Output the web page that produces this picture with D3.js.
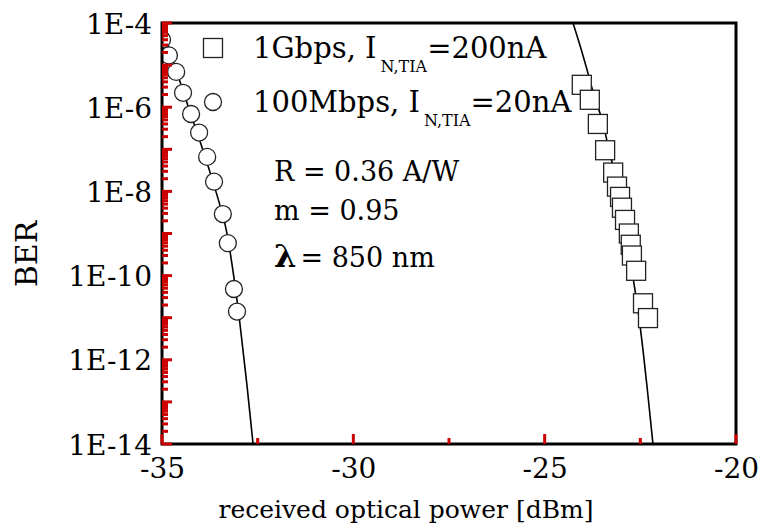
<!DOCTYPE html>
<html lang="en">
<head>
<meta charset="UTF-8">
<title>BER vs received optical power</title>
<script src="https://d3js.org/d3.v7.min.js"></script>
<style>
    body { margin: 0; background: #fff; }
    svg text { font-family: "DejaVu Serif", serif; fill: #000; }
</style>
</head>
<body>
<div id="chart"></div>
<script>
// 100Mbps measurements (circles)
const mbpsPower = [-35.0, -34.82, -34.63, -34.45, -34.24, -34.03, -33.82, -33.64, -33.41, -33.28, -33.12, -33.04];
const mbpsBer = [4.0e-5, 1.7e-5, 6.9e-6, 2.2e-6, 6.9e-7, 2.5e-7, 6.6e-8, 1.7e-8, 2.9e-9, 5.9e-10, 4.8e-11, 1.4e-11];

// 1Gbps measurements (squares)
const gbpsPower = [-24.03, -23.82, -23.61, -23.42, -23.21, -23.11, -23.03, -22.98, -22.90, -22.80, -22.75, -22.72, -22.61, -22.43, -22.30];
const gbpsBer = [3.4e-6, 1.5e-6, 4.0e-7, 9.5e-8, 2.8e-8, 1.3e-8, 7.4e-9, 4.1e-9, 2.1e-9, 1.0e-9, 5.4e-10, 3.0e-10, 1.3e-10, 2.2e-11, 9.8e-12];

// fitted curves
const mbpsFitPower = [-35.03, -34.63, -34.27, -33.93, -33.64, -33.35, -33.14, -32.96, -32.78, -32.62];
const mbpsFitBer = [1e-4, 7.6e-6, 7.8e-7, 9.5e-8, 1.4e-8, 1.6e-9, 1.2e-10, 6.8e-12, 2.5e-13, 1e-14];
const gbpsFitPower = [-24.26, -24.08, -23.89, -23.71, -23.50, -23.35, -23.19, -23.03, -22.88, -22.72, -22.56, -22.43, -22.30, -22.17];
const gbpsFitBer = [1e-4, 3.0e-5, 7.6e-6, 1.9e-6, 5.0e-7, 1.3e-7, 3.2e-8, 6.3e-9, 9.1e-10, 1.3e-10, 1.5e-11, 1.7e-12, 1.4e-13, 1e-14];

const xTicks = [-35, -30, -25, -20];
const xMinorTicks = [-32.5, -27.5, -22.5];
const yLabelTicks = [1e-4, 1e-6, 1e-8, 1e-10, 1e-12, 1e-14];
const yTickLabels = ["1E-4", "1E-6", "1E-8", "1E-10", "1E-12", "1E-14"];

const width = 760, height = 530;
const plotLeft = 162, plotRight = 736, plotTop = 23, plotBottom = 444;

const svg = d3.select("#chart").append("svg")
    .attr("width", width)
    .attr("height", height);

const x = d3.scaleLinear().domain([-35, -20]).range([plotLeft, plotRight]);
const y = d3.scaleLog().domain([1e-14, 1e-4]).range([plotBottom, plotTop]);

svg.append("defs").append("clipPath").attr("id", "plot-clip")
    .append("rect")
    .attr("x", plotLeft).attr("y", plotTop)
    .attr("width", plotRight - plotLeft).attr("height", plotBottom - plotTop);

// tick labels through the axis generators
const yLabels = svg.append("g")
    .attr("transform", `translate(${plotLeft},0)`)
    .call(d3.axisLeft(y).tickValues(yLabelTicks).tickSize(0).tickPadding(10)
        .tickFormat((d, i) => yTickLabels[i]));
const xLabels = svg.append("g")
    .attr("transform", `translate(0,${plotBottom})`)
    .call(d3.axisBottom(x).tickValues(xTicks).tickSize(0).tickFormat(d => String(d)));

[yLabels, xLabels].forEach(g => {
    g.select(".domain").remove();
    g.selectAll("text").style("font-size", "28px").attr("fill", "#000");
});
yLabels.selectAll("text").attr("dy", "0.36em");
xLabels.selectAll("text").attr("dy", 0).attr("y", 34);

const plot = svg.append("g").attr("clip-path", "url(#plot-clip)");

// fitted curves
const line = d3.line()
    .x(d => x(d[0]))
    .y(d => y(d[1]))
    .curve(d3.curveMonotoneY);

plot.append("path")
    .datum(d3.zip(mbpsFitPower, mbpsFitBer))
    .attr("d", line)
    .attr("fill", "none").attr("stroke", "#000").attr("stroke-width", 1.6);
plot.append("path")
    .datum(d3.zip(gbpsFitPower, gbpsFitBer))
    .attr("d", line)
    .attr("fill", "none").attr("stroke", "#000").attr("stroke-width", 1.6);

// markers
const sq = 19;
plot.selectAll(".sq")
    .data(d3.zip(gbpsPower, gbpsBer))
    .enter().append("rect")
    .attr("class", "sq")
    .attr("x", d => x(d[0]) - sq / 2)
    .attr("y", d => y(d[1]) - sq / 2)
    .attr("width", sq).attr("height", sq)
    .attr("fill", "#fff").attr("stroke", "#222").attr("stroke-width", 1.3);

plot.selectAll(".circ")
    .data(d3.zip(mbpsPower, mbpsBer))
    .enter().append("circle")
    .attr("class", "circ")
    .attr("cx", d => x(d[0]))
    .attr("cy", d => y(d[1]))
    .attr("r", 8.5)
    .attr("fill", "#fff").attr("stroke", "#222").attr("stroke-width", 1.3);

// frame
svg.append("rect")
    .attr("x", plotLeft).attr("y", plotTop)
    .attr("width", plotRight - plotLeft).attr("height", plotBottom - plotTop)
    .attr("fill", "none").attr("stroke", "#000").attr("stroke-width", 3);

// inward ticks, one line per tick, drawn on top of the frame
const decades = d3.range(-14, -3).map(e => Math.pow(10, e));
const minors = [];
d3.range(-14, -4).forEach(e => {
    for (let k = 2; k <= 9; k++) minors.push(k * Math.pow(10, e));
});
const tickDefs = []
    .concat(decades.map(d => [plotLeft, y(d), plotLeft + 10, y(d)]))
    .concat(minors.map(d => [plotLeft, y(d), plotLeft + 6, y(d)]))
    .concat(xTicks.map(d => [x(d), plotBottom, x(d), plotBottom - 10]))
    .concat(xMinorTicks.map(d => [x(d), plotBottom, x(d), plotBottom - 6]));
svg.append("g")
    .selectAll("line")
    .data(tickDefs)
    .enter().append("line")
    .attr("x1", d => d[0]).attr("y1", d => d[1])
    .attr("x2", d => d[2]).attr("y2", d => d[3])
    .style("stroke", "#c00")
    .style("stroke-width", "3px");

// legend
svg.append("rect")
    .attr("x", 213 - sq / 2).attr("y", 48 - sq / 2)
    .attr("width", sq).attr("height", sq)
    .attr("fill", "#fff").attr("stroke", "#222").attr("stroke-width", 1.3);
svg.append("circle")
    .attr("cx", 213).attr("cy", 102).attr("r", 8.5)
    .attr("fill", "#fff").attr("stroke", "#222").attr("stroke-width", 1.3);

function legendText(yPos, main, tail) {
    const t = svg.append("text")
        .attr("x", 253).attr("y", yPos)
        .style("font-size", "29px");
    t.append("tspan").text(main);
    t.append("tspan").attr("dy", 14).attr("dx", 4).style("font-size", "16px").text("N,TIA");
    t.append("tspan").attr("dy", -14).text(tail);
}
legendText(58, "1Gbps, I", "=200nA");
legendText(112, "100Mbps, I", "=20nA");

// parameters
const params = [["R = 0.36 A/W", 181], ["m = 0.95", 220]];
params.forEach(p => {
    svg.append("text")
        .attr("x", 274).attr("y", p[1])
        .style("font-size", "27px")
        .text(p[0]);
});
const lam = svg.append("text")
    .attr("x", 274).attr("y", 267)
    .style("font-size", "27px");
lam.append("tspan").style("font-size", "32px").style("font-weight", "bold").text("λ");
lam.append("tspan").attr("dx", 4).text("= 850 nm");

// axis titles
svg.append("text")
    .attr("x", 406).attr("y", 518)
    .attr("text-anchor", "middle")
    .style("font-size", "25px")
    .text("received optical power [dBm]");
svg.append("text")
    .attr("transform", "translate(37,254) rotate(-90)")
    .attr("text-anchor", "middle")
    .style("font-size", "30px")
    .text("BER");
</script>
</body>
</html>
